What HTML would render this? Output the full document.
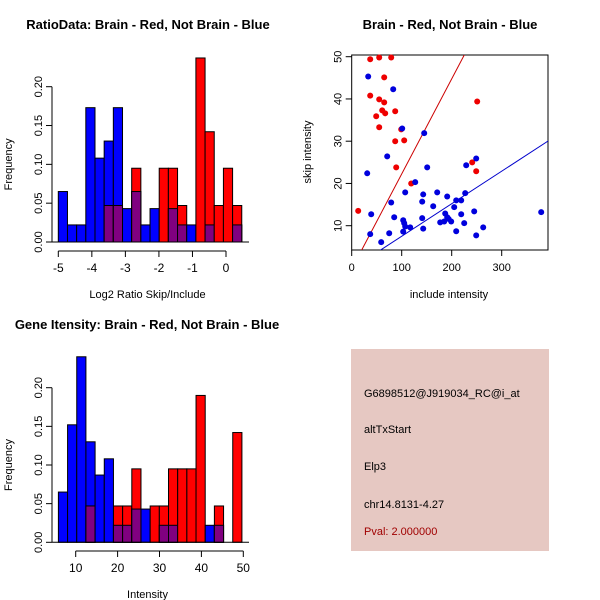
<!DOCTYPE html>
<html><head><meta charset="utf-8"><style>
body{margin:0;background:#fff}
svg{display:block;font-family:"Liberation Sans",sans-serif}
</style></head><body>
<svg id="c" width="600" height="600" xmlns="http://www.w3.org/2000/svg">
<rect width="600" height="600" fill="#fff"/>
<text x="148" y="29" font-size="13" font-weight="bold" text-anchor="middle">RatioData: Brain - Red, Not Brain - Blue</text>
<text x="450" y="29" font-size="13" font-weight="bold" text-anchor="middle">Brain - Red, Not Brain - Blue</text>
<text x="147" y="329" font-size="13" font-weight="bold" text-anchor="middle">Gene Itensity: Brain - Red, Not Brain - Blue</text>
<g>
<rect x="351" y="349" width="198" height="202" fill="#e6c8c2"/>
<text x="364" y="397" font-size="11">G6898512@J919034_RC@i_at</text>
<text x="364" y="433" font-size="11">altTxStart</text>
<text x="364" y="470" font-size="11">Elp3</text>
<text x="364" y="508" font-size="11">chr14.8131-4.27</text>
<text x="364" y="535" font-size="11" fill="#a00000">Pval: 2.000000</text>
</g>
</svg>
<script>
const NS="http://www.w3.org/2000/svg";
const svg=document.getElementById('c');
// ---- data ----
const ratioStart=-5.0, ratioBinW=0.2735;
const ratioBlue=[0.065,0.022,0.022,0.173,0.108,0.13,0.173,0.043,0.065,0.022,0.043,0,0.043,0.022,0.022,0,0.022,0,0,0.022];
const ratioRed=[0,0,0,0,0,0.047,0.047,0,0.095,0,0,0.095,0.095,0.047,0,0.237,0.142,0.047,0.095,0.047];
const ratioXTicks=[-5,-4,-3,-2,-1,0];
const freqTicks=[0,0.05,0.10,0.15,0.20];
const freqTickLabels=["0.00","0.05","0.10","0.15","0.20"];
const intStart=5.87, intBinW=2.19;
const intBlue=[0.065,0.152,0.24,0.13,0.087,0.108,0.022,0.022,0.043,0.043,0,0.022,0.022,0,0,0,0.022,0.022,0,0];
const intRed=[0,0,0,0.047,0,0,0.047,0.047,0.095,0,0.047,0.047,0.095,0.095,0.095,0.19,0,0.047,0,0.142];
const intXTicks=[10,20,30,40,50];
const redX=[13,37,55,79,37,55,65,65,61,49,67,87,55,99,87,105,89,119,251,241,249];
const redY=[13.5,49.4,49.8,49.8,40.8,39.9,39.2,45.1,37.3,35.9,36.6,37.1,33.3,32.8,30,30.2,23.8,20,39.4,25,22.9];
const blueX=[33,83,101,145,71,151,31,127,107,143,171,191,79,141,163,209,219,227,229,249,205,39,85,141,103,105,107,117,103,143,187,191,194,177,185,199,219,225,245,209,263,249,379,37,75,59];
const blueY=[45.3,42.3,33,31.9,26.4,23.8,22.4,20.3,17.9,17.4,17.9,16.9,15.5,15.7,14.6,16,16,17.7,24.3,25.9,14.4,12.7,12,11.8,11.3,10.6,9.8,9.6,8.6,9.3,12.9,12,11.6,10.8,11,11,12.7,10.6,13.4,8.7,9.6,7.7,13.2,8,8.2,6.1];
const scXTicks=[0,100,200,300];
const scYTicks=[10,20,30,40,50];
const redFit=[0.225,-0.25]; // slope, intercept
const blueFit=[0.077,-0.2];

function el(tag,attrs,parent){const e=document.createElementNS(NS,tag);for(const k in attrs)e.setAttribute(k,attrs[k]);(parent||svg).appendChild(e);return e;}
function txt(x,y,s,size,anchor,rot,parent){const t=el('text',{x:x,y:y,'font-size':size,'text-anchor':anchor||'middle'},parent);if(rot)t.setAttribute('transform','rotate(-90 '+x+' '+y+')');t.textContent=s;return t;}

function hist(name,start,w,blue,red,xTicks,sx,sy,yAxisX,xAxisY,xlab,plotX0,plotX1){
  const g=el('g',{});
  
  
  for(let i=0;i<blue.length;i++){
    const x0=sx(start+i*w), x1=sx(start+(i+1)*w);
    const b=blue[i], r=red[i];
    if(b>0){const rc=el('rect',{x:x0,y:sy(b),width:x1-x0,height:sy(0)-sy(b),fill:'#0000ff',stroke:'#000','stroke-width':1},g);
      
      }
    if(r>0){const rc=el('rect',{x:x0,y:sy(r),width:x1-x0,height:sy(0)-sy(r),fill:'#ff0000',stroke:'#000','stroke-width':1},g);
      
      }
    const m=Math.min(b,r);
    if(m>0){const rc=el('rect',{x:x0,y:sy(m),width:x1-x0,height:sy(0)-sy(m),fill:'#800080',stroke:'#000','stroke-width':1},g);
      
      }
  }
  el('line',{x1:plotX0,x2:plotX1,y1:sy(0),y2:sy(0),stroke:'#000'},g);
  el('line',{x1:yAxisX,x2:yAxisX,y1:sy(0),y2:sy(0.20),stroke:'#000'},g);
  freqTicks.forEach((v,i)=>{el('line',{x1:yAxisX-6,x2:yAxisX,y1:sy(v),y2:sy(v),stroke:'#000'},g);
    const t=txt(yAxisX-10,sy(v),freqTickLabels[i],11,'middle',true,g);
    
    });
  el('line',{x1:sx(xTicks[0]),x2:sx(xTicks[xTicks.length-1]),y1:xAxisY,y2:xAxisY,stroke:'#000'},g);
  xTicks.forEach(v=>{el('line',{x1:sx(v),x2:sx(v),y1:xAxisY,y2:xAxisY+6,stroke:'#000'},g);
    const t=txt(sx(v),xAxisY+21,String(v),12,'middle',false,g);
    
    });
  const xl=txt((plotX0+plotX1)/2-3,xAxisY+47,xlab,11,'middle',false,g);
  
  
  const yl=txt(12,(sy(0)+sy(0.2))/2,'Frequency',11,'middle',true,g);
  
  
}
hist('ratio-histogram',ratioStart,ratioBinW,ratioBlue,ratioRed,ratioXTicks,
  v=>58.3+(v+5)*33.54, v=>242-v*(242-86.7)/0.2, 52, 251,'Log2 Ratio Skip/Include',52,249);
hist('intensity-histogram',intStart,intBinW,intBlue,intRed,intXTicks,
  v=>75.7+(v-10)*4.19, v=>542.3-v*(542.3-387.7)/0.2, 52, 551,'Intensity',52,249);

const sc=el('g',{});


const px=v=>351.7+v*0.5, py=v=>225.7-(v-10)*4.225;
const L=351.7,R=548,T=55,B=250;
const cp=el('clipPath',{id:'clipS'},sc);el('rect',{x:L,y:T,width:R-L,height:B-T},cp);
el('rect',{x:L,y:T,width:R-L,height:B-T,fill:'none',stroke:'#000'},sc);
scXTicks.forEach(v=>{el('line',{x1:px(v),x2:px(v),y1:B,y2:B+6,stroke:'#000'},sc);
  const t=txt(px(v),B+21,String(v),11,'middle',false,sc);
  
  });
scYTicks.forEach(v=>{el('line',{x1:L-6,x2:L,y1:py(v),y2:py(v),stroke:'#000'},sc);
  const t=txt(L-10,py(v),String(v),11,'middle',true,sc);
  
  });
const sxl=txt(449,298,'include intensity',11,'middle',false,sc);


const syl=txt(311,152,'skip intensity',11,'middle',true,sc);


const lg=el('g',{'clip-path':'url(#clipS)'},sc);
[[redFit,'#cc0000','red-fit-line'],[blueFit,'#0000cc','blue-fit-line']].forEach(([f,c,n])=>{
  const ln=el('line',{x1:px(0),y1:py(f[1]),x2:px(400),y2:py(f[0]*400+f[1]),stroke:c},lg);
  
  });
redX.forEach((x,i)=>{const c=el('circle',{cx:px(x),cy:py(redY[i]),r:3,fill:'#ee0000'},sc);
  
  });
blueX.forEach((x,i)=>{const c=el('circle',{cx:px(x),cy:py(blueY[i]),r:3,fill:'#0000dd'},sc);
  
  });
</script>
</body></html>
